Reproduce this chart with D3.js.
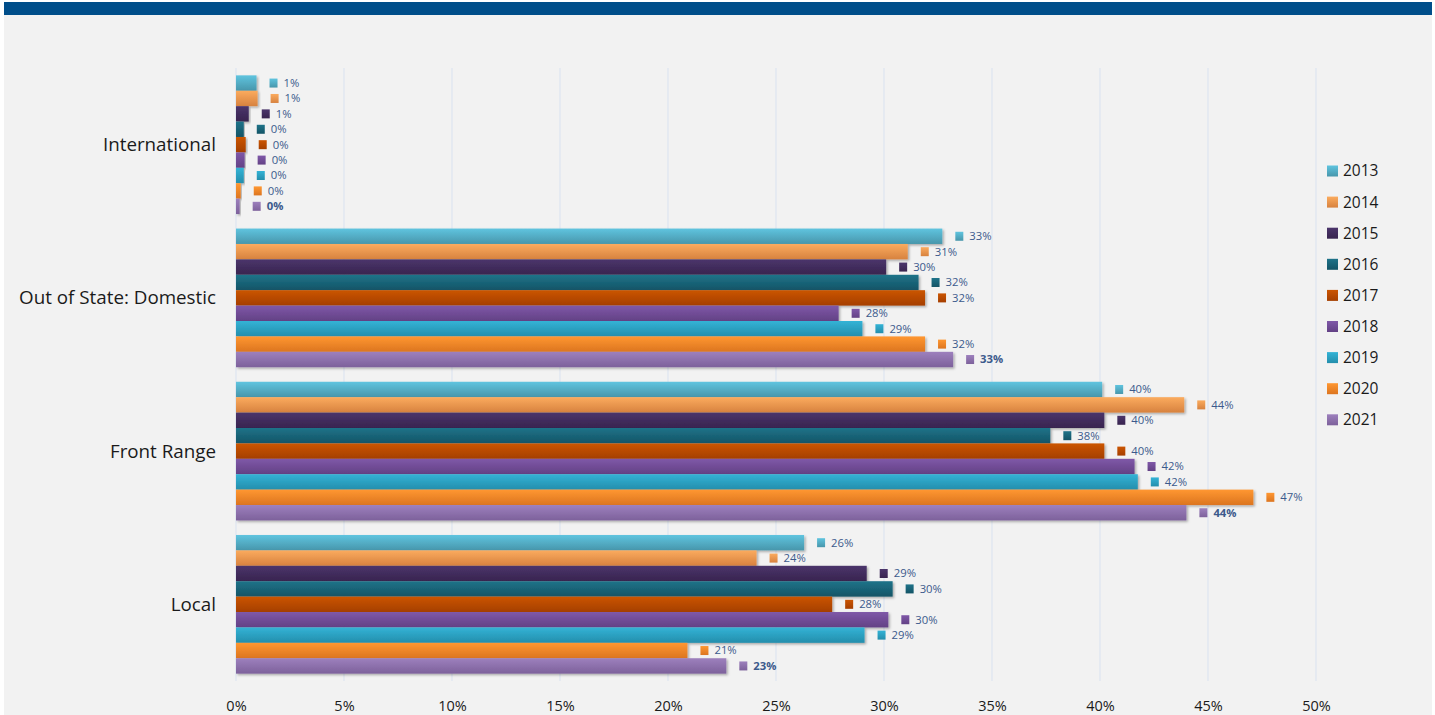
<!DOCTYPE html>
<html>
<head>
<meta charset="utf-8">
<script src="https://cdn.jsdelivr.net/npm/d3@7"></script>
<style>
  html, body { margin: 0; padding: 0; background: #ffffff; }
  svg { display: block; }
</style>
</head>
<body>
<svg id="chart" width="1435" height="715"></svg>
<script>
// ---- data ----
const categories = ["International", "Out of State: Domestic", "Front Range", "Local"];
const years = ["2013", "2014", "2015", "2016", "2017", "2018", "2019", "2020", "2021"];
const international = [0.0095, 0.010, 0.0059, 0.0036, 0.0045, 0.0040, 0.0036, 0.0022, 0.0017];
const outOfState   = [0.327, 0.311, 0.301, 0.316, 0.319, 0.279, 0.290, 0.319, 0.332];
const frontRange   = [0.401, 0.439, 0.402, 0.377, 0.402, 0.416, 0.4175, 0.471, 0.440];
const local        = [0.263, 0.241, 0.292, 0.304, 0.276, 0.302, 0.291, 0.209, 0.227];
const seriesByCategory = [international, outOfState, frontRange, local];
const xTicks = [0, 0.05, 0.10, 0.15, 0.20, 0.25, 0.30, 0.35, 0.40, 0.45, 0.50];
const colorsTop    = ["#5fc4df", "#fbab5e", "#4b356b", "#1f7389", "#cb5502", "#7f58a8", "#33b3d6", "#ff9731", "#9d80bd"];
const colorsBottom = ["#4896ab", "#d7823f", "#38244f", "#135466", "#a53f00", "#634185", "#248eac", "#dc7520", "#7d619b"];

const svg = d3.select("#chart");
const W = 1435, H = 715;

// background panel
svg.append("rect").attr("x", 0).attr("y", 0).attr("width", W).attr("height", H).attr("fill", "#ffffff");
svg.append("rect").attr("x", 4).attr("y", 2).attr("width", 1428).attr("height", H - 2).attr("fill", "#f2f2f2");
svg.append("rect").attr("x", 4).attr("y", 2).attr("width", 1428).attr("height", 13).attr("fill", "#004e8a");

// defs: gradients + shadow
const defs = svg.append("defs");
years.forEach((y, i) => {
  const g = defs.append("linearGradient").attr("id", "g" + i)
    .attr("x1", 0).attr("y1", 0).attr("x2", 0).attr("y2", 1);
  g.append("stop").attr("offset", "0%").attr("stop-color", colorsTop[i]);
  g.append("stop").attr("offset", "100%").attr("stop-color", colorsBottom[i]);
});
const f = defs.append("filter").attr("id", "shadow").attr("x", "-5%").attr("y", "-20%").attr("width", "120%").attr("height", "160%");
f.append("feDropShadow").attr("dx", 1.5).attr("dy", 1.5).attr("stdDeviation", 1.2)
  .attr("flood-color", "#000").attr("flood-opacity", 0.3);

// scales
const plotTop = 68, plotBottom = 681;
const x = d3.scaleLinear().domain([0, 0.5]).range([236, 1316]);
const y0 = d3.scaleBand().domain(categories).range([plotTop, plotBottom]).paddingInner(0.095).paddingOuter(0.048);
const y1 = d3.scaleBand().domain(years).range([0, y0.bandwidth()]).padding(0);

// gridlines
svg.append("g").selectAll("line").data(xTicks).join("line")
  .attr("x1", d => x(d)).attr("x2", d => x(d))
  .attr("y1", plotTop).attr("y2", plotBottom)
  .attr("stroke", "#dde5f0").attr("stroke-width", 1.2);

// x axis
const xAxis = d3.axisBottom(x).tickValues(xTicks).tickFormat(d3.format(".0%")).tickSize(0).tickPadding(0);
const ax = svg.append("g").attr("transform", `translate(0, 711)`).call(xAxis);
ax.select(".domain").remove();
ax.selectAll("text").attr("font-family", "Open Sans, Noto Sans, sans-serif").attr("font-size", 14.5)
  .attr("fill", "#1a1a1a").attr("dy", 0);

// y category labels
svg.append("g").selectAll("text").data(categories).join("text")
  .attr("x", 216).attr("y", d => y0(d) + y0.bandwidth() / 2)
  .attr("dy", "0.35em").attr("text-anchor", "end")
  .attr("font-family", "Open Sans, Noto Sans, sans-serif").attr("font-size", 18.8)
  .attr("fill", "#1a1a1a").text(d => d);

// bars
const groups = svg.append("g").selectAll("g").data(categories).join("g")
  .attr("transform", d => `translate(0, ${y0(d)})`);

groups.each(function(cat, ci) {
  const vals = seriesByCategory[ci];
  const g = d3.select(this);
  const items = years.map((yr, i) => ({ yr, i, v: vals[i] }));
  g.selectAll("rect.bar").data(items).join("rect").attr("class", "bar")
    .attr("x", x(0)).attr("y", d => y1(d.yr))
    .attr("width", d => x(d.v) - x(0)).attr("height", y1.bandwidth())
    .attr("fill", d => `url(#g${d.i})`).attr("filter", "url(#shadow)");
  g.selectAll("rect.mk").data(items).join("rect").attr("class", "mk")
    .attr("x", d => x(d.v) + 13).attr("y", d => y1(d.yr) + y1.bandwidth() / 2 - 4.5)
    .attr("width", 8).attr("height", 9)
    .attr("fill", d => `url(#g${d.i})`);
  g.selectAll("text.lb").data(items).join("text").attr("class", "lb")
    .attr("x", d => x(d.v) + 27).attr("y", d => y1(d.yr) + y1.bandwidth() / 2)
    .attr("dy", "0.35em")
    .attr("font-family", "Open Sans, Noto Sans, sans-serif").attr("font-size", 11.3)
    .attr("font-weight", d => d.i === 8 ? "bold" : "normal")
    .attr("fill", "#3c5a8c")
    .text(d => d3.format(".0%")(d.v));
});

// legend
const lg = svg.append("g").selectAll("g").data(years).join("g")
  .attr("transform", (d, i) => `translate(1327, ${171 + i * 31.1})`);
lg.append("rect").attr("x", 0).attr("y", -5.5).attr("width", 11).attr("height", 11)
  .attr("fill", (d, i) => `url(#g${i})`);
lg.append("text").attr("x", 16).attr("y", 0).attr("dy", "0.35em")
  .attr("font-family", "Open Sans, Noto Sans, sans-serif").attr("font-size", 15.5)
  .attr("fill", "#1a1a1a").text(d => d);
</script>
</body>
</html>
